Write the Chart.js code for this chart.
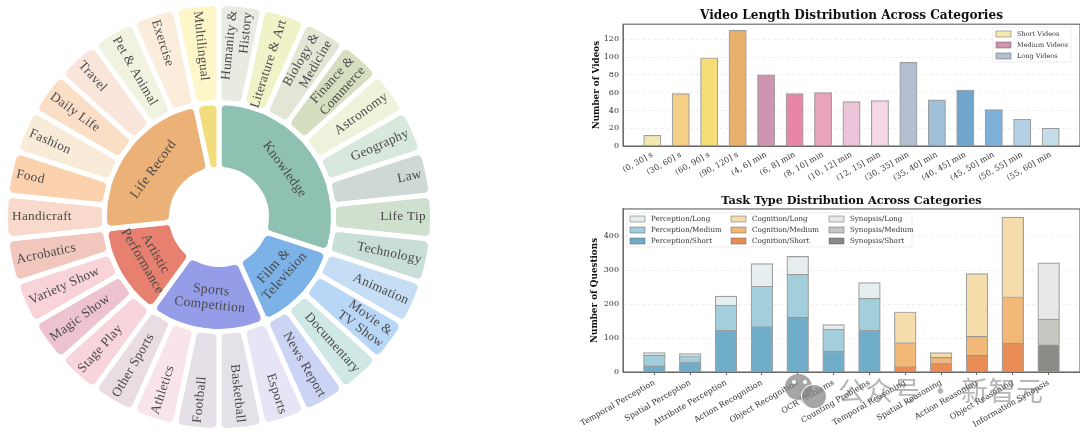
<!DOCTYPE html>
<html>
<head>
<meta charset="utf-8">
<script src="https://cdn.jsdelivr.net/npm/chart.js@4"></script>
<style>
body { margin: 0; background: #fff; width: 1080px; height: 434px; overflow: hidden; position: relative; }
canvas { position: absolute; }
#wm { position: absolute; left: 838px; top: 370px; font: 27px "Noto Sans CJK SC"; color: rgba(110,110,110,.5); white-space: nowrap; letter-spacing: 0.5px; }
.dot { position: absolute; border-radius: 50%; background: rgba(130,130,130,.72); }
.eye { position: absolute; border-radius: 50%; background: #fff; width: 4px; height: 4px; }
</style>
</head>
<body>
<canvas id="sunburst" width="438" height="434" style="left:0;top:0"></canvas>
<canvas id="lengths" width="510" height="190" style="left:570px;top:0"></canvas>
<canvas id="tasks" width="510" height="244" style="left:570px;top:190px"></canvas>
<div class="dot" style="left:785px;top:374px;width:27px;height:26px"></div>
<div class="eye" style="left:792px;top:380px"></div>
<div class="eye" style="left:803px;top:380px"></div>
<div class="dot" style="left:801px;top:384px;width:24px;height:23px;border:1.5px solid #fff"></div>
<div id="wm">公众号 · 新智元</div>
<script>
// sunburst
const outerLabels = ['Humanity &\nHistory', 'Literature & Art', 'Biology &\nMedicine', 'Finance &\nCommerce', 'Astronomy', 'Geography', 'Law', 'Life Tip', 'Technology',
  'Animation', 'Movie &\nTV Show', 'Documentary', 'News Report',
  'Esports', 'Basketball', 'Football', 'Athletics', 'Other Sports',
  'Stage Play', 'Magic Show', 'Variety Show', 'Acrobatics',
  'Handicraft', 'Food', 'Fashion', 'Daily Life', 'Travel', 'Pet & Animal', 'Exercise',
  'Multilingual']
const outerValues = [1, 1, 1, 1, 1, 1, 1, 1, 1, 1, 1, 1, 1, 1, 1, 1, 1, 1, 1, 1, 1, 1, 1, 1, 1, 1, 1, 1, 1, 1]
const outerColors = ['#e8ebe2', '#f0f2c8', '#e2e6d5', '#d5dfbf', '#eef3dc', '#d8e8dc', '#ced8d4', '#cfe0cf', '#c9ded8',
  '#c5def5', '#b8d6f5', '#cfe8e6', '#ccd4f5',
  '#e6e4f5', '#e5e1e8', '#e5e0e8', '#f9e4ea', '#e9dce2',
  '#f8d5dc', '#ecc3cf', '#f8d3d7', '#f0c6bd',
  '#f8d9cc', '#fbd2ad', '#f8ecd9', '#fadfc6', '#fae5da', '#f1f3e0', '#fbeddc',
  '#fdf6c9']
const innerLabels = ['Knowledge', 'Film &\nTelevision', 'Sports\nCompetition', 'Artistic\nPerformance', 'Life Record', '']
const innerValues = [9, 4, 5, 4, 7, 1]
const innerColors = ['#8fc1b2', '#7cb2e8', '#959de8', '#e8806f', '#ecb176', '#f2dc7c']

// video lengths
const lengthLabels = ['(0, 30] s', '(30, 60] s', '(60, 90] s', '(90, 120] s', '(4, 6] min', '(6, 8] min', '(8, 10] min', '(10, 12] min', '(12, 15] min',
  '(30, 35] min', '(35, 40] min', '(40, 45] min', '(45, 50] min', '(50, 55] min', '(55, 60] min']
const shortVideos = [12, 59, 99, 130]
const mediumVideos = [80, 59, 60, 50, 51]
const longVideos = [94, 52, 63, 41, 30, 20]
const shortColors = ['#f5e9b0', '#f5cf85', '#f5de78', '#e8b26e']
const mediumColors = ['#cf94b0', '#e787a5', '#eaa5bb', '#eec4d8', '#f6d7e5']
const longColors = ['#b4bfd2', '#a0bfd9', '#71a5cb', '#7fb0da', '#b3d2ea', '#c5dcea']

// task types
const taskLabels = ['Temporal Perception', 'Spatial Perception', 'Attribute Perception', 'Action Recognition', 'Object Recognition', 'OCR Problems', 'Counting Problems',
  'Temporal Reasoning', 'Spatial Reasoning', 'Action Reasoning', 'Object Reasoning', 'Information Synopsis']
const perceptionShort = [18, 30, 123, 133, 161, 61, 123]
const perceptionMedium = [32, 18, 74, 120, 127, 65, 94]
const perceptionLong = [7, 6, 27, 67, 53, 14, 47]
const cognitionShort = [15, 27, 49, 85]
const cognitionMedium = [72, 16, 56, 137]
const cognitionLong = [90, 14, 185, 235]
const synopsisShort = [81]
const synopsisMedium = [75]
const synopsisLong = [166]

const serif = '"DejaVu Serif"'
const greyEdge = 'rgba(80,80,80,.55)'

function toPoints(values, start) {
    return values.map((v, i) => ({ x: start + i, y: v }))
}

const ringText = {
    id: 'ringText',
    afterDatasetsDraw(chart) {
        let ctx = chart.ctx
        ctx.save()
        ctx.fillStyle = '#4a4a4a'
        ctx.textBaseline = 'middle'
        ctx.letterSpacing = '0.3px'
        ctx.font = '13.3px "Liberation Serif"'
        chart.getDatasetMeta(0).data.forEach((arc, i) => {
            let clock = (arc.startAngle + arc.endAngle) / 2 + Math.PI / 2
            let right = clock < Math.PI
            ctx.save()
            ctx.translate(arc.x + 207 * Math.sin(clock), arc.y - 207 * Math.cos(clock))
            ctx.rotate(right ? clock - Math.PI / 2 : clock - 3 * Math.PI / 2)
            ctx.textAlign = right ? 'right' : 'left'
            let lines = outerLabels[i].split('\n')
            lines.forEach((l, n) => ctx.fillText(l, 0, (n - (lines.length - 1) / 2) * 15))
            ctx.restore()
        })
        ctx.font = '13.6px "Liberation Serif"'
        chart.getDatasetMeta(1).data.forEach((arc, i) => {
            let clock = (arc.startAngle + arc.endAngle) / 2 + Math.PI / 2
            let flip = clock > Math.PI / 2 && clock < 3 * Math.PI / 2
            ctx.save()
            ctx.translate(arc.x + 81 * Math.sin(clock), arc.y - 81 * Math.cos(clock))
            ctx.rotate(flip ? clock - Math.PI : clock)
            ctx.textAlign = 'center'
            let lines = innerLabels[i].split('\n')
            lines.forEach((l, n) => ctx.fillText(l, 0, (n - (lines.length - 1) / 2) * 15))
            ctx.restore()
        })
        ctx.restore()
    }
}

new Chart(document.getElementById('sunburst'), {
    type: 'doughnut',
    plugins: [ringText],
    data: {
        labels: outerLabels,
        datasets: [
            { data: outerValues, backgroundColor: outerColors, weight: 99 },
            { data: innerValues, backgroundColor: innerColors, weight: 67 },
        ]
    },
    options: {
        responsive: false,
        animation: false,
        cutout: '22.25%',
        layout: { padding: 1 },
        elements: { arc: { borderColor: '#fff', borderWidth: 5, borderRadius: 7 } },
        plugins: { legend: { display: false }, tooltip: { enabled: false } },
    }
})

// frame around the plot and the boxed legend, matplotlib style
const plotDress = {
    id: 'plotDress',
    afterDraw(chart, args, opts) {
        let ctx = chart.ctx
        let a = chart.chartArea
        ctx.save()
        ctx.strokeStyle = '#6e6e6e'
        ctx.lineWidth = 1.2
        ctx.strokeRect(a.left, a.top, a.right - a.left, a.bottom - a.top)

        ctx.fillStyle = 'rgba(255,255,255,.85)'
        ctx.strokeStyle = '#e8e8e8'
        ctx.lineWidth = 0.8
        ctx.fillRect(opts.x, opts.y, opts.w, opts.h)
        ctx.strokeRect(opts.x, opts.y, opts.w, opts.h)

        ctx.font = opts.font + 'px ' + serif
        ctx.textBaseline = 'middle'
        chart.data.datasets.forEach((ds, i) => {
            let single = opts.columns.length === 1
            let x = opts.columns[single ? 0 : Math.floor(i / 3)]
            let y = opts.rowY + (single ? i : 2 - (i % 3)) * 11
            ctx.fillStyle = ds.legendColor
            ctx.strokeStyle = greyEdge
            ctx.lineWidth = 0.8
            ctx.fillRect(x, y - 3, 15, 6)
            ctx.strokeRect(x, y - 3, 15, 6)
            ctx.fillStyle = '#333'
            ctx.fillText(ds.label, x + 21, y)
        })
        ctx.restore()
    }
}

function barOptions(opts) {
    return {
        responsive: false,
        animation: false,
        layout: { padding: 0 },
        plugins: {
            legend: { display: false },
            tooltip: { enabled: false },
            title: {
                display: true,
                fullSize: false,
                text: opts.title,
                color: '#111',
                font: { family: serif, size: opts.titleSize, weight: 'bold', lineHeight: 1.2 },
                padding: opts.titlePadding,
            },
            plotDress: opts.legend,
        },
        scales: {
            x: {
                type: 'linear',
                bounds: 'data',
                offset: false,
                stacked: true,
                min: opts.xMin,
                max: opts.xMax,
                afterFit: s => { s.height = opts.xHeight },
                afterBuildTicks: s => { s.ticks = opts.names.map((n, i) => ({ value: i })) },
                grid: { offset: false, drawOnChartArea: false, drawTicks: opts.xTicks, tickLength: 3, color: '#666' },
                border: { color: '#666' },
                ticks: {
                    autoSkip: false,
                    maxRotation: 30,
                    minRotation: 30,
                    padding: opts.xPad,
                    color: '#333',
                    font: { family: serif, size: opts.xFont },
                    callback: v => opts.names[v],
                },
            },
            y: {
                bounds: 'data',
                stacked: true,
                min: 0,
                max: opts.yMax,
                afterFit: s => { s.width = 53 },
                afterBuildTicks: s => { s.ticks = s.ticks.filter(t => t.value % opts.yStep === 0) },
                grid: { color: 'rgba(0,0,0,.07)', drawTicks: false },
                border: { color: '#666', dash: [3, 3] },
                ticks: {
                    stepSize: opts.yStep,
                    padding: 4,
                    color: '#333',
                    font: { family: serif, size: 8 },
                },
                title: {
                    display: true,
                    text: opts.yTitle,
                    color: '#111',
                    font: { family: serif, size: 8.8, weight: 'bold', lineHeight: 1.2 },
                    padding: { top: opts.yTitlePad, bottom: 0 },
                },
            },
        },
    }
}

function barSet(label, values, start, colors, legendColor, thick) {
    return {
        label: label,
        data: toPoints(values, start),
        backgroundColor: colors,
        legendColor: legendColor,
        borderColor: greyEdge,
        borderWidth: 1.2,
        barThickness: thick,
    }
}

new Chart(document.getElementById('lengths'), {
    type: 'bar',
    plugins: [plotDress],
    data: {
        datasets: [
            barSet('Short Videos', shortVideos, 0, shortColors, '#f5e9b0', 17.3),
            barSet('Medium Videos', mediumVideos, 4, mediumColors, '#cf94b0', 17.3),
            barSet('Long Videos', longVideos, 9, longColors, '#b4bfd2', 17.3),
        ]
    },
    options: barOptions({
        title: 'Video Length Distribution Across Categories',
        titleSize: 12.1,
        titlePadding: { top: 9, bottom: 0.7 },
        names: lengthLabels,
        xMin: -1.03, xMax: 15.03, xHeight: 44, xTicks: false, xPad: 4, xFont: 8,
        yMax: 137, yStep: 20, yTitle: 'Number of Videos', yTitlePad: 21,
        legend: { x: 423, y: 27, w: 78, h: 35, columns: [426], rowY: 34, font: 6.5 },
    })
})

new Chart(document.getElementById('tasks'), {
    type: 'bar',
    plugins: [plotDress],
    data: {
        datasets: [
            barSet('Perception/Short', perceptionShort, 0, '#6fadc9', '#6fadc9', 21.7),
            barSet('Perception/Medium', perceptionMedium, 0, '#a3cedb', '#a3cedb', 21.7),
            barSet('Perception/Long', perceptionLong, 0, '#e6eef0', '#e6eef0', 21.7),
            barSet('Cognition/Short', cognitionShort, 7, '#ea8c55', '#ea8c55', 21.7),
            barSet('Cognition/Medium', cognitionMedium, 7, '#f2b877', '#f2b877', 21.7),
            barSet('Cognition/Long', cognitionLong, 7, '#f5dcab', '#f5dcab', 21.7),
            barSet('Synopsis/Short', synopsisShort, 11, '#8c8a87', '#8c8a87', 21.7),
            barSet('Synopsis/Medium', synopsisMedium, 11, '#c9c7c1', '#c9c7c1', 21.7),
            barSet('Synopsis/Long', synopsisLong, 11, '#e9e8e8', '#e9e8e8', 21.7),
        ]
    },
    options: barOptions({
        title: 'Task Type Distribution Across Categories',
        titleSize: 11.3,
        titlePadding: { top: 4.5, bottom: 0.9 },
        names: taskLabels,
        xMin: -0.875, xMax: 11.875, xHeight: 62, xTicks: true, xPad: 3, xFont: 8,
        yMax: 481, yStep: 100, yTitle: 'Number of Questions', yTitlePad: 19,
        legend: { x: 57, y: 23, w: 285, h: 34, columns: [60, 161, 259], rowY: 29, font: 7.1 },
    })
})
</script>
</body>
</html>
